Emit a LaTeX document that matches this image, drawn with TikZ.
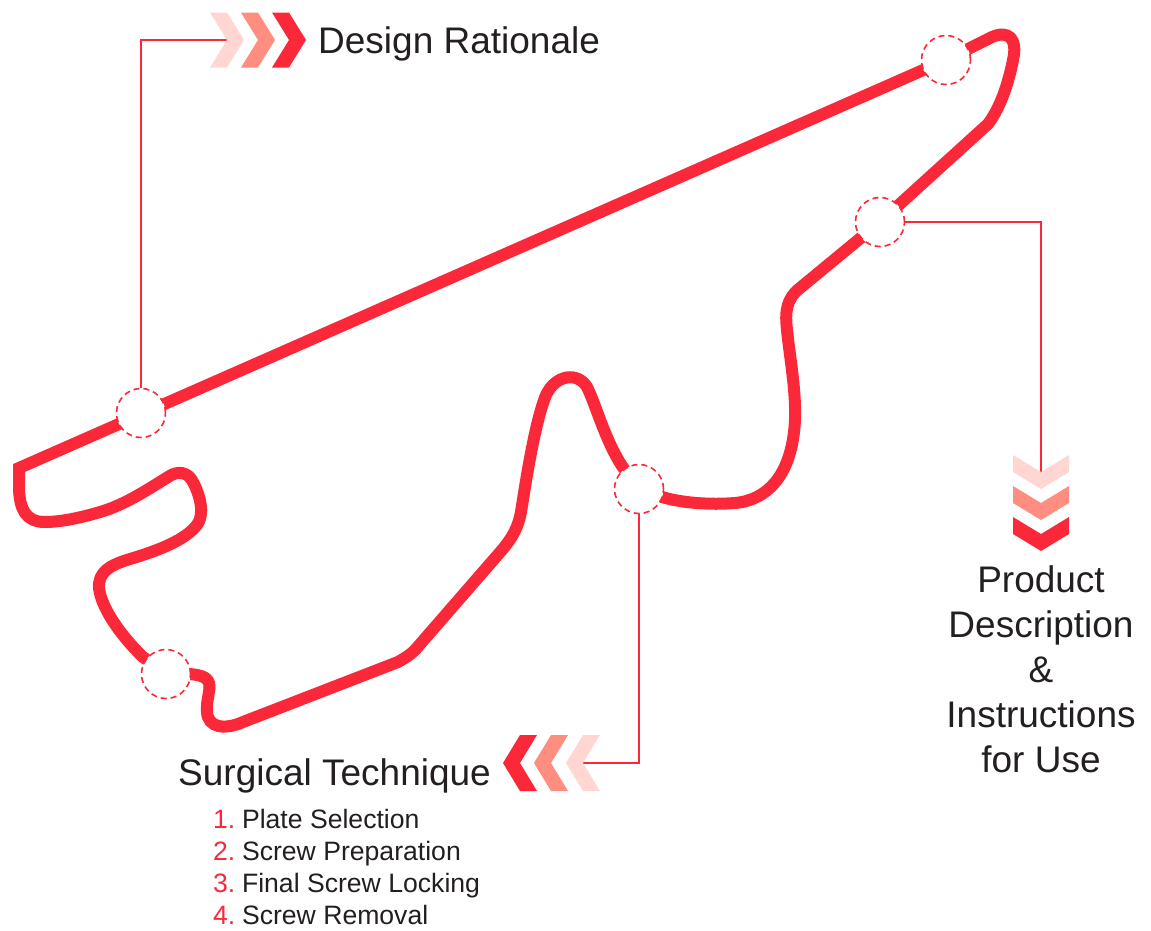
\documentclass[tikz,border=0pt]{standalone}
\usepackage{fontspec}
\setmainfont{Liberation Sans}
\definecolor{trk}{RGB}{250,40,56}
\definecolor{chpink}{RGB}{255,214,210}
\definecolor{chsalmon}{RGB}{255,141,128}
\definecolor{txt}{RGB}{35,31,32}
\begin{document}
\begin{tikzpicture}[x=1pt,y=-1pt,
  track/.style={draw=trk,line width=12pt},
  stop/.style={circle,draw=trk,fill=white,line width=1.6pt,dash pattern=on 6pt off 4pt,minimum size=49pt,inner sep=0pt},
  conn/.style={draw=trk,line width=1.6pt},
  heading/.style={text=txt,font=\fontsize{37}{45}\selectfont,inner sep=0pt},
  item/.style={text=txt,font=\fontsize{26.6}{32}\selectfont,inner sep=0pt,anchor=base west}]
\useasboundingbox (0,0) rectangle (1151,930);

% track
\draw[track] (946,60) -- (992,37) .. controls (1008,30) and (1018,38) .. (1013,60)
  .. controls (1008,85) and (1000,108) .. (988,124) -- (880,222) -- (800,288)
  .. controls (786,299) and (785,312) .. (787,330)
  .. controls (790,360) and (798,400) .. (794,432)
  .. controls (789,475) and (768,500) .. (735,503)
  .. controls (710,505) and (682,503) .. (662,497) -- (639,489) -- (622,466)
  .. controls (605,440) and (596,405) .. (587,387)
  .. controls (578,372) and (556,374) .. (546,395)
  .. controls (535,422) and (526,480) .. (521,512)
  .. controls (518,528) and (512,538) .. (502,550) -- (415,650)
  .. controls (410,655) and (405,658) .. (398,662) -- (243,722)
  .. controls (225,730) and (208,728) .. (207,712)
  .. controls (206,700) and (211,690) .. (209,683)
  .. controls (207,676) and (198,675) .. (190,674) -- (166,674) -- (143,657)
  .. controls (120,635) and (101,607) .. (99,588)
  .. controls (98,572) and (110,565) .. (130,559)
  .. controls (160,550) and (185,540) .. (197,525)
  .. controls (205,514) and (200,495) .. (193,482)
  .. controls (188,472) and (178,470) .. (168,477)
  .. controls (150,488) and (125,505) .. (100,512)
  .. controls (80,518) and (60,522) .. (45,522)
  .. controls (25,522) and (20,508) .. (19,490) -- (19,468) -- cycle;

% stops
\node[stop] (c1) at (141,413) {};
\node[stop] (c2) at (946,60) {};
\node[stop] (c3) at (880,222) {};
\node[stop] (c4) at (639,489) {};
\node[stop] (c5) at (166,674) {};

% connector ends
\coordinate (drin) at (228,40);
\coordinate (pdin) at (1041,473);
\coordinate (stin) at (580,763);
\draw[conn] (c1.north) |- (drin);
\draw[conn] (c3.east) -| (pdin);
\draw[conn] (c4.south) |- (stin);

% chevrons right
\foreach \x/\c in {210/chpink,241/chsalmon,272/trk}
  \fill[\c,shift={(\x,40)}] (0,-27.5) -- (17,-27.5) -- (34,0) -- (17,27.5) -- (0,27.5) -- (17,0) -- cycle;
% chevrons down
\foreach \y/\c in {455/chpink,486/chsalmon,517/trk}
  \fill[\c,shift={(1041,\y)}] (-28,0) -- (-28,17) -- (0,34) -- (28,17) -- (28,0) -- (0,17) -- cycle;
% chevrons left
\foreach \x/\c in {600/chpink,568/chsalmon,537/trk}
  \fill[\c,shift={(\x,763)}] (0,-28) -- (-17,-28) -- (-34,0) -- (-17,28) -- (0,28) -- (-17,0) -- cycle;

% texts
\node[heading,anchor=base west] (dr) at (318,53) {Design Rationale};
\node[heading,anchor=base west] (st) at (178,785) {Surgical Technique};
\node[item] (i1) at (213,828) {\textcolor{trk}{1.}\hspace{0.25em}Plate Selection};
\node[item] (i2) at (213,860) {\textcolor{trk}{2.}\hspace{0.25em}Screw Preparation};
\node[item] (i3) at (213,892) {\textcolor{trk}{3.}\hspace{0.25em}Final Screw Locking};
\node[item] (i4) at (213,924) {\textcolor{trk}{4.}\hspace{0.25em}Screw Removal};
\node[heading,anchor=north,align=center] (pd) at (1041,565) {Product\\Description\\\&\\Instructions\\for Use};
\end{tikzpicture}
\end{document}
